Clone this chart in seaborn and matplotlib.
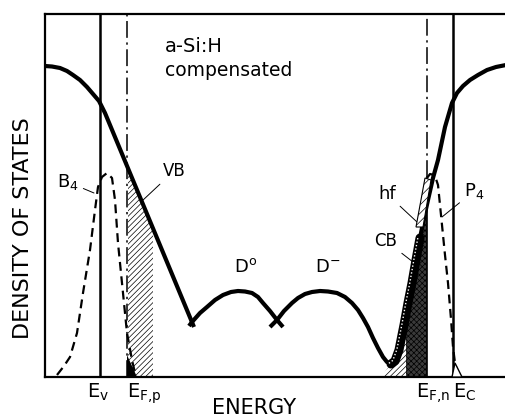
import numpy as np
import matplotlib
matplotlib.use("Agg")
import matplotlib.pyplot as plt
import matplotlib.transforms as mtransforms
import seaborn as sns

# Band-edge and Fermi-level positions (energy axis, arbitrary units)
e_v, e_fp, e_fn, e_c = 100, 127, 427, 453

# Valence-band tail
vb_energy = [45, 52, 60, 67, 73, 80, 87, 93, 99, 105, 194]
vb_dos = [311, 310.5, 309, 306, 302, 297, 290, 283, 276, 264, 50]

# Neutral dangling-bond band D0
d0_energy = [189, 192, 200, 207, 215, 223, 231, 238, 245, 252, 258, 263, 270, 277, 283]
d0_dos = [51, 55, 64, 70, 77, 82, 85, 86, 85.5, 84, 80, 74, 66, 57, 50]

# Charged dangling-bond band D- running into the conduction-band tail
cb_energy = [270, 277, 284, 292, 298, 305, 312, 320, 328, 337, 345, 352, 358, 363,
             368, 373, 378, 383, 387, 391, 395, 399, 404, 408, 412, 416, 420, 424,
             428, 433, 438, 445, 452, 457, 463, 470, 478, 487, 496, 506]
cb_dos = [50, 57, 66, 74, 79, 83, 85, 86, 85.5, 84, 80, 74, 67, 59,
          50, 39, 29, 20, 15, 13, 16, 27, 52, 74, 94, 117, 139, 159,
          177, 199, 217, 250, 274, 284, 291, 297, 302, 307, 310, 312]

# Boron acceptor (B4) and phosphorus donor (P4) distributions
b4_energy = [57, 64, 70, 77, 83, 90, 95, 98, 102, 107, 112, 115, 118, 123, 127, 132, 135]
b4_dos = [2, 11, 20, 44, 84, 127, 167, 190, 200, 204, 199, 177, 134, 84, 44, 17, 4]
p4_energy = [427, 430, 434, 436, 438, 440, 442, 445, 448, 451, 453, 455, 458]
p4_dos = [199, 203, 202, 198, 192, 172, 152, 122, 94, 58, 30, 14, 3]

# Occupied valence-band states above E_F,p (hatched region)
vbh_energy = [128, 128, 153, 153]
vbh_dos = [0, 207, 147, 0]

# Hydrogen-free (hf) strip along the conduction-band tail
hf_energy = [416, 423, 431, 425]
hf_dos = [150, 150, 197, 199]

sns.set_style("white")
plt.rcParams["font.family"] = ["DejaVu Sans"]
plt.rcParams["mathtext.fontset"] = "dejavusans"
plt.rcParams["hatch.linewidth"] = 0.5
plt.rcParams["text.color"] = "black"

fig = plt.figure(figsize=(5.06, 4.2), dpi=100)
ax = fig.add_axes([45 / 506, 43 / 420, 461 / 506, 363 / 420])
ax.set_xlim(45, 506)
ax.set_ylim(0, 363)
ax.set_xticks([])
ax.set_yticks([])
for side in ("left", "top", "bottom"):
    ax.spines[side].set_linewidth(1.6)
    ax.spines[side].set_color("k")
ax.spines["right"].set_visible(False)

# Shaded regions
ax.fill(vbh_energy, vbh_dos, facecolor="white", edgecolor="k", hatch="//////",
        linewidth=0, zorder=1)

cbe = np.array(cb_energy, float)
cbd = np.array(cb_dos, float)
top_fn = np.interp(e_fn, cbe, cbd)
sel = (cbe > 388) & (cbe < e_fn)
ax.fill([381] + list(cbe[sel]) + [e_fn, e_fn], [0] + list(cbd[sel]) + [top_fn, 0],
        facecolor="white", edgecolor="k", hatch="//////", linewidth=0, zorder=1)
x_dark = 406
sel2 = (cbe > x_dark) & (cbe < e_fn)
ax.fill([x_dark, x_dark] + list(cbe[sel2]) + [e_fn, e_fn],
        [0, np.interp(x_dark, cbe, cbd)] + list(cbd[sel2]) + [top_fn, 0],
        facecolor="#3a3a3a", edgecolor="k", hatch="xxxxxx", linewidth=0, zorder=1)

# Band edges and quasi-Fermi levels
dashdot = (0, (11, 3, 1.5, 3))
ax.axvline(e_v, color="k", lw=1.8, zorder=2)
ax.axvline(e_c, color="k", lw=1.8, zorder=2)
ax.axvline(e_fp, color="k", lw=1.1, linestyle=dashdot, zorder=2)
ax.vlines(e_fn, 200, 363, color="k", lw=1.1, linestyles=[dashdot], zorder=2)
ax.plot([e_fn, e_fn], [0, 200], color="k", lw=1.2, zorder=2)

# Dopant distributions
dash = (0, (4, 2.5))
sns.lineplot(x=b4_energy, y=b4_dos, sort=False, estimator=None, color="k", lw=1.6,
             linestyle=dash, ax=ax, zorder=3)
sns.lineplot(x=p4_energy, y=p4_dos, sort=False, estimator=None, color="k", lw=1.6,
             linestyle=dash, ax=ax, zorder=3)
ax.fill([e_fp, e_fp, 137], [0, 22, 0], color="k", lw=0, zorder=3)
ax.fill([452, 455, 462], [0, 14, 0], facecolor="white", edgecolor="k", lw=1.0, zorder=3)

# Density of states
for xs, ys in ((vb_energy, vb_dos), (d0_energy, d0_dos), (cb_energy, cb_dos)):
    sns.lineplot(x=xs, y=ys, sort=False, estimator=None, color="k", lw=3.0,
                 ax=ax, zorder=4, solid_joinstyle="round", solid_capstyle="butt")

band = (cbe >= 389) & (cbe <= 422)
sns.lineplot(x=cbe[band], y=cbd[band], sort=False, estimator=None, color="k", lw=6.5,
             ax=ax, zorder=4, solid_joinstyle="round")
shift = mtransforms.offset_copy(ax.transData, fig=fig, x=-1.5, y=0.5, units="points")
ax.plot(cbe[band], cbd[band], color="white", lw=1.0, linestyle=(0, (1, 1.5)),
        transform=shift, zorder=5)
ax.fill(hf_energy, hf_dos, facecolor="white", edgecolor="k", hatch="////",
        linewidth=0.8, zorder=5)

# Labels
ax.text(165, 331, "a-Si:H", fontsize=14, ha="left", va="center")
ax.text(165, 306, "compensated", fontsize=13.5, ha="left", va="center")
ax.text(254, -31, "ENERGY", fontsize=15, ha="center", va="center")
ax.text(23, 149, "DENSITY OF STATES", fontsize=16, rotation=90, ha="center", va="center")

ax.text(e_v - 2, -21, r"E$_\mathregular{v}$", fontsize=14, ha="center", va="baseline")
ax.text(e_fp, -21, r"E$_\mathregular{F{,}p}$", fontsize=14, ha="left", va="baseline")
ax.text(e_fn - 11, -21, r"E$_\mathregular{F{,}n}$", fontsize=14, ha="left", va="baseline")
ax.text(e_c, -21, r"E$_\mathregular{C}$", fontsize=14, ha="left", va="baseline")

ax.text(246, 110, r"D$^\mathregular{o}$", fontsize=13, ha="center", va="center")
ax.text(328, 110, r"D$^\mathregular{-}$", fontsize=13, ha="center", va="center")

leader = dict(arrowstyle="-", lw=0.7, color="k", shrinkA=1, shrinkB=0)
ax.annotate(r"B$_\mathregular{4}$", xy=(94, 184), xytext=(57, 195), fontsize=13,
            ha="left", va="center", arrowprops=leader)
ax.annotate("VB", xy=(142, 176), xytext=(174, 206), fontsize=12,
            ha="center", va="center", arrowprops=leader)
ax.annotate("hf", xy=(417, 155), xytext=(387, 183), fontsize=13,
            ha="center", va="center", arrowprops=leader)
ax.annotate("CB", xy=(413, 115), xytext=(386, 136), fontsize=12,
            ha="center", va="center", arrowprops=leader)
ax.annotate(r"P$_\mathregular{4}$", xy=(442, 160), xytext=(474, 186), fontsize=13,
            ha="center", va="center", arrowprops=leader)

fig.savefig("out.png", dpi=100)
